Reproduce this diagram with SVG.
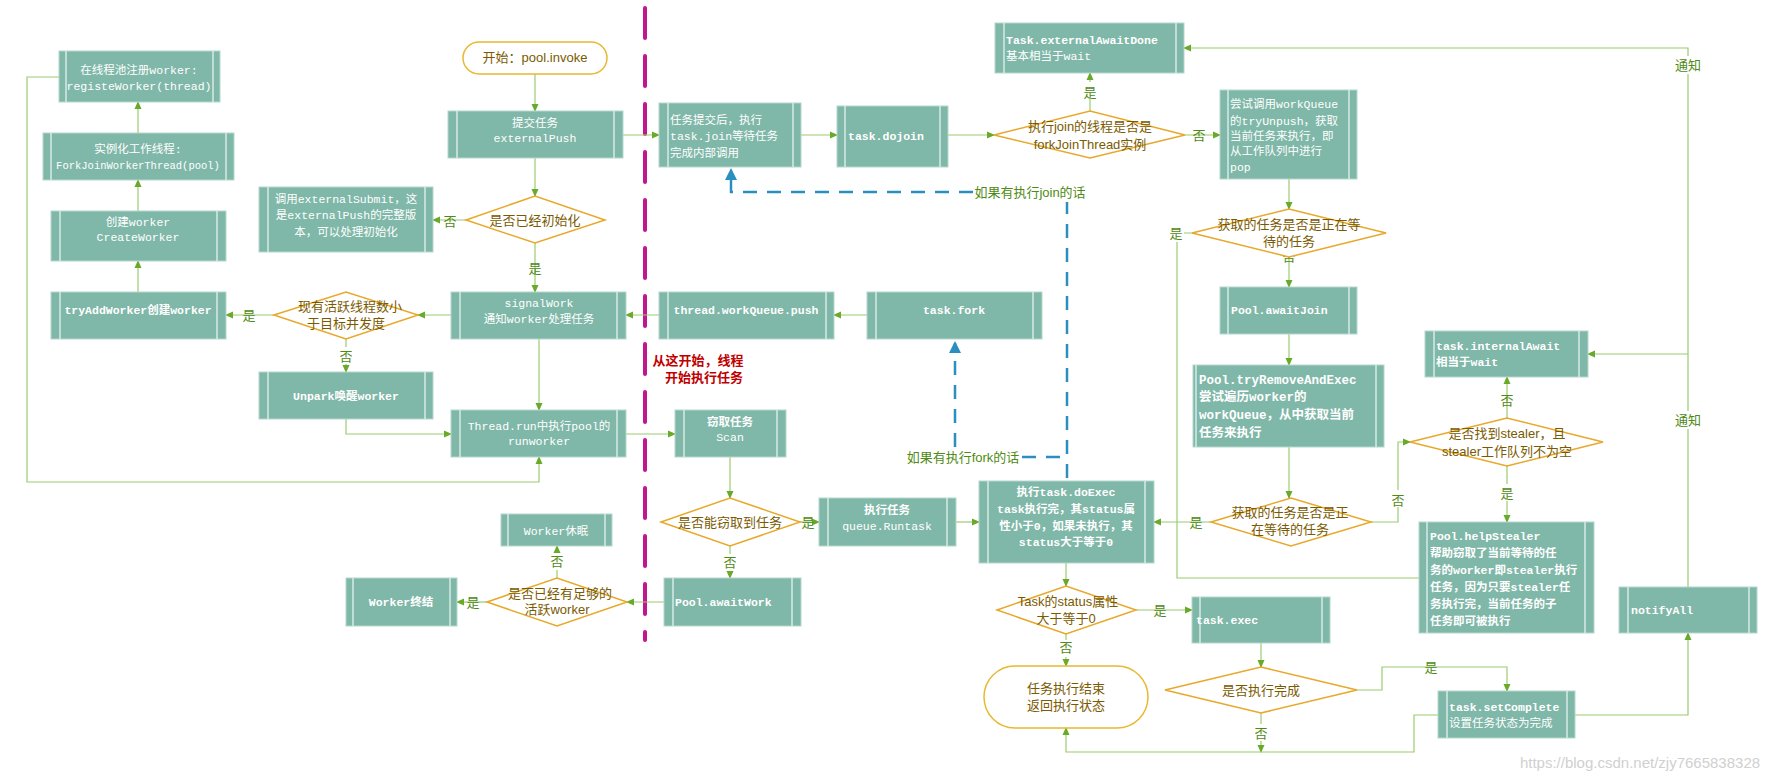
<svg xmlns="http://www.w3.org/2000/svg" width="1776" height="783" viewBox="0 0 1776 783">
<defs>
<style>
.b{fill:#7fb7a8;stroke:#b5d8cc;stroke-width:1}
.bl{stroke:#d6ebe4;stroke-width:1.5}
.t{fill:#fff;font-family:"Liberation Mono","Noto Sans CJK SC",monospace;font-size:11.5px}
.tb{font-weight:bold}
.d{fill:#fff;stroke:#e8a82a;stroke-width:1.5}
.dt{fill:#7a5a00;font-family:"Liberation Sans","Noto Sans CJK SC",sans-serif;font-size:13px;text-anchor:middle}
.c{fill:none;stroke:#9bcc6e;stroke-width:1.2}
.lb{fill:#4f8a14;font-family:"Liberation Sans","Noto Sans CJK SC",sans-serif;font-size:13px;text-anchor:middle}
.bd{fill:none;stroke:#2a8fc0;stroke-width:2.5;stroke-dasharray:14,10}
.m{text-anchor:middle}
</style>
<marker id="a" markerWidth="8" markerHeight="8" refX="7" refY="4" orient="auto" markerUnits="userSpaceOnUse"><path d="M0,0.5 L8,4 L0,7.5 z" fill="#6aaa2a"/></marker>
<marker id="ab" markerWidth="12" markerHeight="12" refX="10" refY="6" orient="auto" markerUnits="userSpaceOnUse"><path d="M0,0 L12,6 L0,12 z" fill="#2a8fc0"/></marker>
</defs>
<rect width="1776" height="783" fill="#fff"/>

<line x1="645" y1="8" x2="645" y2="640" stroke="#c0168e" stroke-width="4" stroke-linecap="round" stroke-dasharray="30,18"/>

<g id="connectors">
<path class="c" d="M535,74 V111" marker-end="url(#a)"/>
<path class="c" d="M623,135 H659" marker-end="url(#a)"/>
<path class="c" d="M535,158 V196" marker-end="url(#a)"/>
<path class="c" d="M466,220 H433" marker-end="url(#a)"/>
<path class="c" d="M535,243 V292" marker-end="url(#a)"/>
<path class="c" d="M451,315 H418" marker-end="url(#a)"/>
<path class="c" d="M274,315 H226" marker-end="url(#a)"/>
<path class="c" d="M346,339 V372" marker-end="url(#a)"/>
<path class="c" d="M346,419 V434 H451" marker-end="url(#a)"/>
<path class="c" d="M539,339 V410" marker-end="url(#a)"/>
<path class="c" d="M138,292 V261" marker-end="url(#a)"/>
<path class="c" d="M138,211 V180" marker-end="url(#a)"/>
<path class="c" d="M138,133 V102" marker-end="url(#a)"/>
<path class="c" d="M59,77 H27 V482 H539 V457" marker-end="url(#a)"/>
<path class="c" d="M626,434 H675" marker-end="url(#a)"/>
<path class="c" d="M730,457 V498" marker-end="url(#a)"/>
<path class="c" d="M800,522 H819" marker-end="url(#a)"/>
<path class="c" d="M730,546 V578" marker-end="url(#a)"/>
<path class="c" d="M664,602 H627" marker-end="url(#a)"/>
<path class="c" d="M487,602 H457" marker-end="url(#a)"/>
<path class="c" d="M557,578 V546" marker-end="url(#a)"/>
<path class="c" d="M956,522 H979" marker-end="url(#a)"/>
<path class="c" d="M1066,563 V586" marker-end="url(#a)"/>
<path class="c" d="M1136,610 H1192" marker-end="url(#a)"/>
<path class="c" d="M1066,634 V666" marker-end="url(#a)"/>
<path class="c" d="M1261,643 V667" marker-end="url(#a)"/>
<path class="c" d="M1357,690 H1382 V667 H1507 V691" marker-end="url(#a)"/>
<path class="c" d="M1261,713 V752" marker-end="url(#a)"/>
<path class="c" d="M1438,715 H1414 V752 H1066 V728" marker-end="url(#a)"/>
<path class="c" d="M1575,715 H1688 V633" marker-end="url(#a)"/>
<path class="c" d="M1688,587 V48 H1184" marker-end="url(#a)"/>
<path class="c" d="M1688,354 H1588" marker-end="url(#a)"/>
<path class="c" d="M659,315 H626" marker-end="url(#a)"/>
<path class="c" d="M867,315 H834" marker-end="url(#a)"/>
<path class="c" d="M801,135 H837" marker-end="url(#a)"/>
<path class="c" d="M948,135 H994" marker-end="url(#a)"/>
<path class="c" d="M1090,111 V73" marker-end="url(#a)"/>
<path class="c" d="M1185,135 H1220" marker-end="url(#a)"/>
<path class="c" d="M1289,179 V209" marker-end="url(#a)"/>
<path class="c" d="M1289,257 V287" marker-end="url(#a)"/>
<path class="c" d="M1289,334 V365" marker-end="url(#a)"/>
<path class="c" d="M1289,447 V498" marker-end="url(#a)"/>
<path class="c" d="M1211,522 H1154" marker-end="url(#a)"/>
<path class="c" d="M1371,522 H1398 V442 H1410" marker-end="url(#a)"/>
<path class="c" d="M1507,418 V377" marker-end="url(#a)"/>
<path class="c" d="M1507,466 V522" marker-end="url(#a)"/>
<path class="c" d="M1192,233 H1177 V578 H1419"/>
<path class="bd" d="M973,192 H731 V170" marker-end="url(#ab)"/>
<path class="bd" d="M1067,200 V481"/>
<path class="bd" d="M1022,457 H1067"/>
<path class="bd" d="M955,447 V343" marker-end="url(#ab)"/>
<g>
<rect x="441" y="258" width="18" height="18" fill="#fff"/><text class="lb" x="450" y="226">否</text>
<text class="lb" x="535" y="273">是</text>
<text class="lb" x="249" y="320">是</text>
<rect x="338" y="347" width="16" height="17" fill="#fff"/><text class="lb" x="346" y="361">否</text>
<text class="lb" x="808" y="527">是</text>
<rect x="722" y="554" width="16" height="17" fill="#fff"/><text class="lb" x="730" y="567">否</text>
<text class="lb" x="473" y="607">是</text>
<rect x="549" y="553" width="16" height="17" fill="#fff"/><text class="lb" x="557" y="566">否</text>
<text class="lb" x="1160" y="615">是</text>
<rect x="1058" y="640" width="16" height="17" fill="#fff"/><text class="lb" x="1066" y="652">否</text>
<text class="lb" x="1431" y="672">是</text>
<rect x="1253" y="724" width="16" height="17" fill="#fff"/><text class="lb" x="1261" y="738">否</text>
<rect x="1082" y="82" width="16" height="17" fill="#fff"/><text class="lb" x="1090" y="97">是</text>
<text class="lb" x="1199" y="140">否</text>
<text class="lb" x="1289" y="261">否</text>
<text class="lb" x="1196" y="527">是</text>
<rect x="1390" y="490" width="16" height="17" fill="#fff"/><text class="lb" x="1398" y="505">否</text>
<text class="lb" x="1507" y="405">否</text>
<rect x="1499" y="484" width="16" height="17" fill="#fff"/><text class="lb" x="1507" y="498">是</text>
<rect x="1168" y="225" width="16" height="17" fill="#fff"/><text class="lb" x="1176" y="238">是</text>
<rect x="1673" y="56" width="30" height="18" fill="#fff"/><text class="lb" x="1688" y="70">通知</text>
<rect x="1673" y="411" width="30" height="18" fill="#fff"/><text class="lb" x="1688" y="425">通知</text>
<rect x="973" y="184" width="118" height="18" fill="#fff"/><text class="lb" x="1030" y="197">如果有执行join的话</text>
<text class="lb" x="963" y="462">如果有执行fork的话</text>
<text x="698" y="365" fill="#c00000" font-family="'Liberation Sans','Noto Sans CJK SC',sans-serif" font-size="13" font-weight="bold" text-anchor="middle">从这开始，线程</text>
<text x="704" y="382" fill="#c00000" font-family="'Liberation Sans','Noto Sans CJK SC',sans-serif" font-size="13" font-weight="bold" text-anchor="middle">开始执行任务</text>
</g>
</g>

<g id="n-registe"><rect class="b" x="59" y="51" width="161" height="51"/><line class="bl" x1="66" y1="51" x2="66" y2="102"/><line class="bl" x1="213" y1="51" x2="213" y2="102"/><text class="t m" x="139" y="74">在线程池注册worker:</text><text class="t m" x="139" y="90">registeWorker(thread)</text></g>
<g id="n-inst"><rect class="b" x="43" y="133" width="191" height="47"/><line class="bl" x1="51" y1="133" x2="51" y2="180"/><line class="bl" x1="226" y1="133" x2="226" y2="180"/><text class="t m" x="138" y="153">实例化工作线程:</text><text class="t m" x="138" y="169" style="font-size:10.5px">ForkJoinWorkerThread(pool)</text></g>
<g id="n-create"><rect class="b" x="51" y="211" width="175" height="50"/><line class="bl" x1="60" y1="211" x2="60" y2="261"/><line class="bl" x1="217" y1="211" x2="217" y2="261"/><text class="t m" x="138" y="226">创建worker</text><text class="t m" x="138" y="241">CreateWorker</text></g>
<g id="n-tryadd"><rect class="b" x="51" y="292" width="175" height="47"/><line class="bl" x1="60" y1="292" x2="60" y2="339"/><line class="bl" x1="217" y1="292" x2="217" y2="339"/><text class="t m tb" x="138" y="314">tryAddWorker创建worker</text></g>
<g id="n-start"><rect x="463" y="42" width="144" height="32" rx="16" fill="#fff" stroke="#e8b830" stroke-width="1.5"/><text class="dt" x="535" y="62">开始：pool.invoke</text></g>
<g id="n-push"><rect class="b" x="448" y="111" width="175" height="47"/><line class="bl" x1="457" y1="111" x2="457" y2="158"/><line class="bl" x1="614" y1="111" x2="614" y2="158"/><text class="t m" x="535" y="127">提交任务</text><text class="t m" x="535" y="142">externalPush</text></g>
<g id="n-init"><polygon class="d" points="466,220 535,196 605,220 535,243"/><text class="dt" x="535" y="225">是否已经初始化</text></g>
<g id="n-submit"><rect class="b" x="259" y="187" width="174" height="65"/><line class="bl" x1="268" y1="187" x2="268" y2="252"/><line class="bl" x1="425" y1="187" x2="425" y2="252"/><text class="t m" x="346" y="203">调用externalSubmit，这</text><text class="t m" x="346" y="219">是externalPush的完整版</text><text class="t m" x="346" y="236">本，可以处理初始化</text></g>
<g id="n-signal"><rect class="b" x="451" y="292" width="175" height="47"/><line class="bl" x1="460" y1="292" x2="460" y2="339"/><line class="bl" x1="617" y1="292" x2="617" y2="339"/><text class="t m" x="539" y="307">signalWork</text><text class="t m" x="539" y="323">通知worker处理任务</text></g>
<g id="n-active"><polygon class="d" points="274,315 346,292 418,315 346,339"/><text class="dt" x="350" y="311">现有活跃线程数小</text><text class="dt" x="346" y="328">于目标并发度</text></g>
<g id="n-unpark"><rect class="b" x="259" y="372" width="174" height="47"/><line class="bl" x1="268" y1="372" x2="268" y2="419"/><line class="bl" x1="425" y1="372" x2="425" y2="419"/><text class="t m tb" x="346" y="400">Unpark唤醒worker</text></g>
<g id="n-run"><rect class="b" x="451" y="410" width="175" height="47"/><line class="bl" x1="460" y1="410" x2="460" y2="457"/><line class="bl" x1="617" y1="410" x2="617" y2="457"/><text class="t m" x="539" y="430">Thread.run中执行pool的</text><text class="t m" x="539" y="445">runworker</text></g>
<g id="n-sleep"><rect class="b" x="501" y="514" width="111" height="32"/><line class="bl" x1="508" y1="514" x2="508" y2="546"/><line class="bl" x1="605" y1="514" x2="605" y2="546"/><text class="t m" x="556" y="535">Worker休眠</text></g>
<g id="n-end"><rect class="b" x="346" y="578" width="111" height="48"/><line class="bl" x1="353" y1="578" x2="353" y2="626"/><line class="bl" x1="450" y1="578" x2="450" y2="626"/><text class="t m tb" x="401" y="606">Worker终结</text></g>
<g id="n-enough"><polygon class="d" points="487,602 557,578 627,602 557,626"/><text class="dt" x="560" y="598">是否已经有足够的</text><text class="dt" x="557" y="614">活跃worker</text></g>

<g id="n-joinwait"><rect class="b" x="659" y="103" width="142" height="64"/><line class="bl" x1="668" y1="103" x2="668" y2="167"/><line class="bl" x1="793" y1="103" x2="793" y2="167"/><text class="t" x="670" y="124">任务提交后，执行</text><text class="t" x="670" y="140">task.join等待任务</text><text class="t" x="670" y="157">完成内部调用</text></g>
<g id="n-dojoin"><rect class="b" x="837" y="106" width="111" height="61"/><line class="bl" x1="845" y1="106" x2="845" y2="167"/><line class="bl" x1="940" y1="106" x2="940" y2="167"/><text class="t tb" x="848" y="140">task.dojoin</text></g>
<g id="n-isfj"><polygon class="d" points="994,135 1090,111 1185,135 1090,158"/><text class="dt" x="1090" y="131">执行join的线程是否是</text><text class="dt" x="1090" y="149">forkJoinThread实例</text></g>
<g id="n-extawait"><rect class="b" x="995" y="23" width="189" height="50"/><line class="bl" x1="1004" y1="23" x2="1004" y2="73"/><line class="bl" x1="1176" y1="23" x2="1176" y2="73"/><text class="t tb" x="1006" y="44">Task.externalAwaitDone</text><text class="t" x="1006" y="60">基本相当于wait</text></g>
<g id="n-wqpush"><rect class="b" x="659" y="292" width="175" height="47"/><line class="bl" x1="668" y1="292" x2="668" y2="339"/><line class="bl" x1="826" y1="292" x2="826" y2="339"/><text class="t m tb" x="746" y="314">thread.workQueue.push</text></g>
<g id="n-fork"><rect class="b" x="867" y="292" width="175" height="47"/><line class="bl" x1="876" y1="292" x2="876" y2="339"/><line class="bl" x1="1033" y1="292" x2="1033" y2="339"/><text class="t m tb" x="954" y="314">task.fork</text></g>
<g id="n-scan"><rect class="b" x="675" y="410" width="111" height="47"/><line class="bl" x1="684" y1="410" x2="684" y2="457"/><line class="bl" x1="777" y1="410" x2="777" y2="457"/><text class="t m tb" x="730" y="426">窃取任务</text><text class="t m" x="730" y="441">Scan</text></g>
<g id="n-steal"><polygon class="d" points="661,522 730,498 800,522 730,546"/><text class="dt" x="730" y="527">是否能窃取到任务</text></g>
<g id="n-runtask"><rect class="b" x="819" y="498" width="137" height="48"/><line class="bl" x1="828" y1="498" x2="828" y2="546"/><line class="bl" x1="947" y1="498" x2="947" y2="546"/><text class="t m tb" x="887" y="514">执行任务</text><text class="t m" x="887" y="530">queue.Runtask</text></g>
<g id="n-awaitwork"><rect class="b" x="664" y="578" width="137" height="48"/><line class="bl" x1="673" y1="578" x2="673" y2="626"/><line class="bl" x1="792" y1="578" x2="792" y2="626"/><text class="t tb" x="675" y="606">Pool.awaitWork</text></g>
<g id="n-doexec"><rect class="b" x="979" y="481" width="175" height="82"/><line class="bl" x1="988" y1="481" x2="988" y2="563"/><line class="bl" x1="1145" y1="481" x2="1145" y2="563"/><text class="t m tb" x="1066" y="496">执行task.doExec</text><text class="t m tb" x="1066" y="513">task执行完，其status属</text><text class="t m tb" x="1066" y="530">性小于0，如果未执行，其</text><text class="t m tb" x="1066" y="546">status大于等于0</text></g>
<g id="n-status"><polygon class="d" points="997,610 1066,586 1136,610 1066,634"/><text class="dt" x="1068" y="606">Task的status属性</text><text class="dt" x="1066" y="623">大于等于0</text></g>
<g id="n-finish"><rect x="984" y="666" width="164" height="62" rx="31" fill="#fff" stroke="#e8b830" stroke-width="1.5"/><text class="dt" x="1066" y="693">任务执行结束</text><text class="dt" x="1066" y="710">返回执行状态</text></g>
<g id="n-exec"><rect class="b" x="1192" y="597" width="138" height="46"/><line class="bl" x1="1200" y1="597" x2="1200" y2="643"/><line class="bl" x1="1322" y1="597" x2="1322" y2="643"/><text class="t tb" x="1196" y="624">task.exec</text></g>
<g id="n-done"><polygon class="d" points="1165,690 1261,667 1357,690 1261,713"/><text class="dt" x="1261" y="695">是否执行完成</text></g>
<g id="n-setc"><rect class="b" x="1438" y="691" width="137" height="47"/><line class="bl" x1="1447" y1="691" x2="1447" y2="738"/><line class="bl" x1="1567" y1="691" x2="1567" y2="738"/><text class="t tb" x="1449" y="711">task.setComplete</text><text class="t" x="1449" y="727">设置任务状态为完成</text></g>
<g id="n-notify"><rect class="b" x="1619" y="587" width="138" height="46"/><line class="bl" x1="1628" y1="587" x2="1628" y2="633"/><line class="bl" x1="1749" y1="587" x2="1749" y2="633"/><text class="t tb" x="1631" y="614">notifyAll</text></g>
<g id="n-unpush"><rect class="b" x="1220" y="90" width="137" height="89"/><line class="bl" x1="1228" y1="90" x2="1228" y2="179"/><line class="bl" x1="1349" y1="90" x2="1349" y2="179"/><text class="t" x="1230" y="108">尝试调用workQueue</text><text class="t" x="1230" y="125">的tryUnpush，获取</text><text class="t" x="1230" y="140">当前任务来执行，即</text><text class="t" x="1230" y="155">从工作队列中进行</text><text class="t" x="1230" y="171">pop</text></g>
<g id="n-waiting1"><polygon class="d" points="1192,233 1289,209 1386,233 1289,257"/><text class="dt" x="1289" y="229">获取的任务是否是正在等</text><text class="dt" x="1289" y="246">待的任务</text></g>
<g id="n-awaitjoin"><rect class="b" x="1220" y="287" width="137" height="47"/><line class="bl" x1="1228" y1="287" x2="1228" y2="334"/><line class="bl" x1="1349" y1="287" x2="1349" y2="334"/><text class="t tb" x="1231" y="314">Pool.awaitJoin</text></g>
<g id="n-tryremove"><rect class="b" x="1193" y="365" width="191" height="82"/><line class="bl" x1="1196" y1="365" x2="1196" y2="447"/><line class="bl" x1="1376" y1="365" x2="1376" y2="447"/><text class="t tb" x="1199" y="384" style="font-size:12.5px">Pool.tryRemoveAndExec</text><text class="t tb" x="1199" y="401" style="font-size:12.5px">尝试遍历worker的</text><text class="t tb" x="1199" y="419" style="font-size:12.5px">workQueue，从中获取当前</text><text class="t tb" x="1199" y="437" style="font-size:12.5px">任务来执行</text></g>
<g id="n-waiting2"><polygon class="d" points="1211,522 1291,498 1371,522 1291,546"/><text class="dt" x="1290" y="517">获取的任务是否是正</text><text class="dt" x="1290" y="534">在等待的任务</text></g>
<g id="n-stealer"><polygon class="d" points="1410,442 1507,418 1603,442 1507,466"/><text class="dt" x="1507" y="438">是否找到stealer，且</text><text class="dt" x="1507" y="456">stealer工作队列不为空</text></g>
<g id="n-internal"><rect class="b" x="1425" y="331" width="163" height="46"/><line class="bl" x1="1434" y1="331" x2="1434" y2="377"/><line class="bl" x1="1579" y1="331" x2="1579" y2="377"/><text class="t tb" x="1436" y="344" dy="6">task.internalAwait</text><text class="t tb" x="1436" y="360" dy="6">相当于wait</text></g>
<g id="n-help"><rect class="b" x="1419" y="522" width="175" height="111"/><line class="bl" x1="1427" y1="522" x2="1427" y2="633"/><line class="bl" x1="1585" y1="522" x2="1585" y2="633"/><text class="t tb" x="1430" y="540">Pool.helpStealer</text><text class="t tb" x="1430" y="557">帮助窃取了当前等待的任</text><text class="t tb" x="1430" y="574">务的worker即stealer执行</text><text class="t tb" x="1430" y="591">任务，因为只要stealer任</text><text class="t tb" x="1430" y="608">务执行完，当前任务的子</text><text class="t tb" x="1430" y="625">任务即可被执行</text></g>
<text x="1640" y="768" fill="#d0d0d0" font-family="'Liberation Sans',sans-serif" font-size="15" text-anchor="middle">https://blog.csdn.net/zjy7665838328</text>
</svg>
